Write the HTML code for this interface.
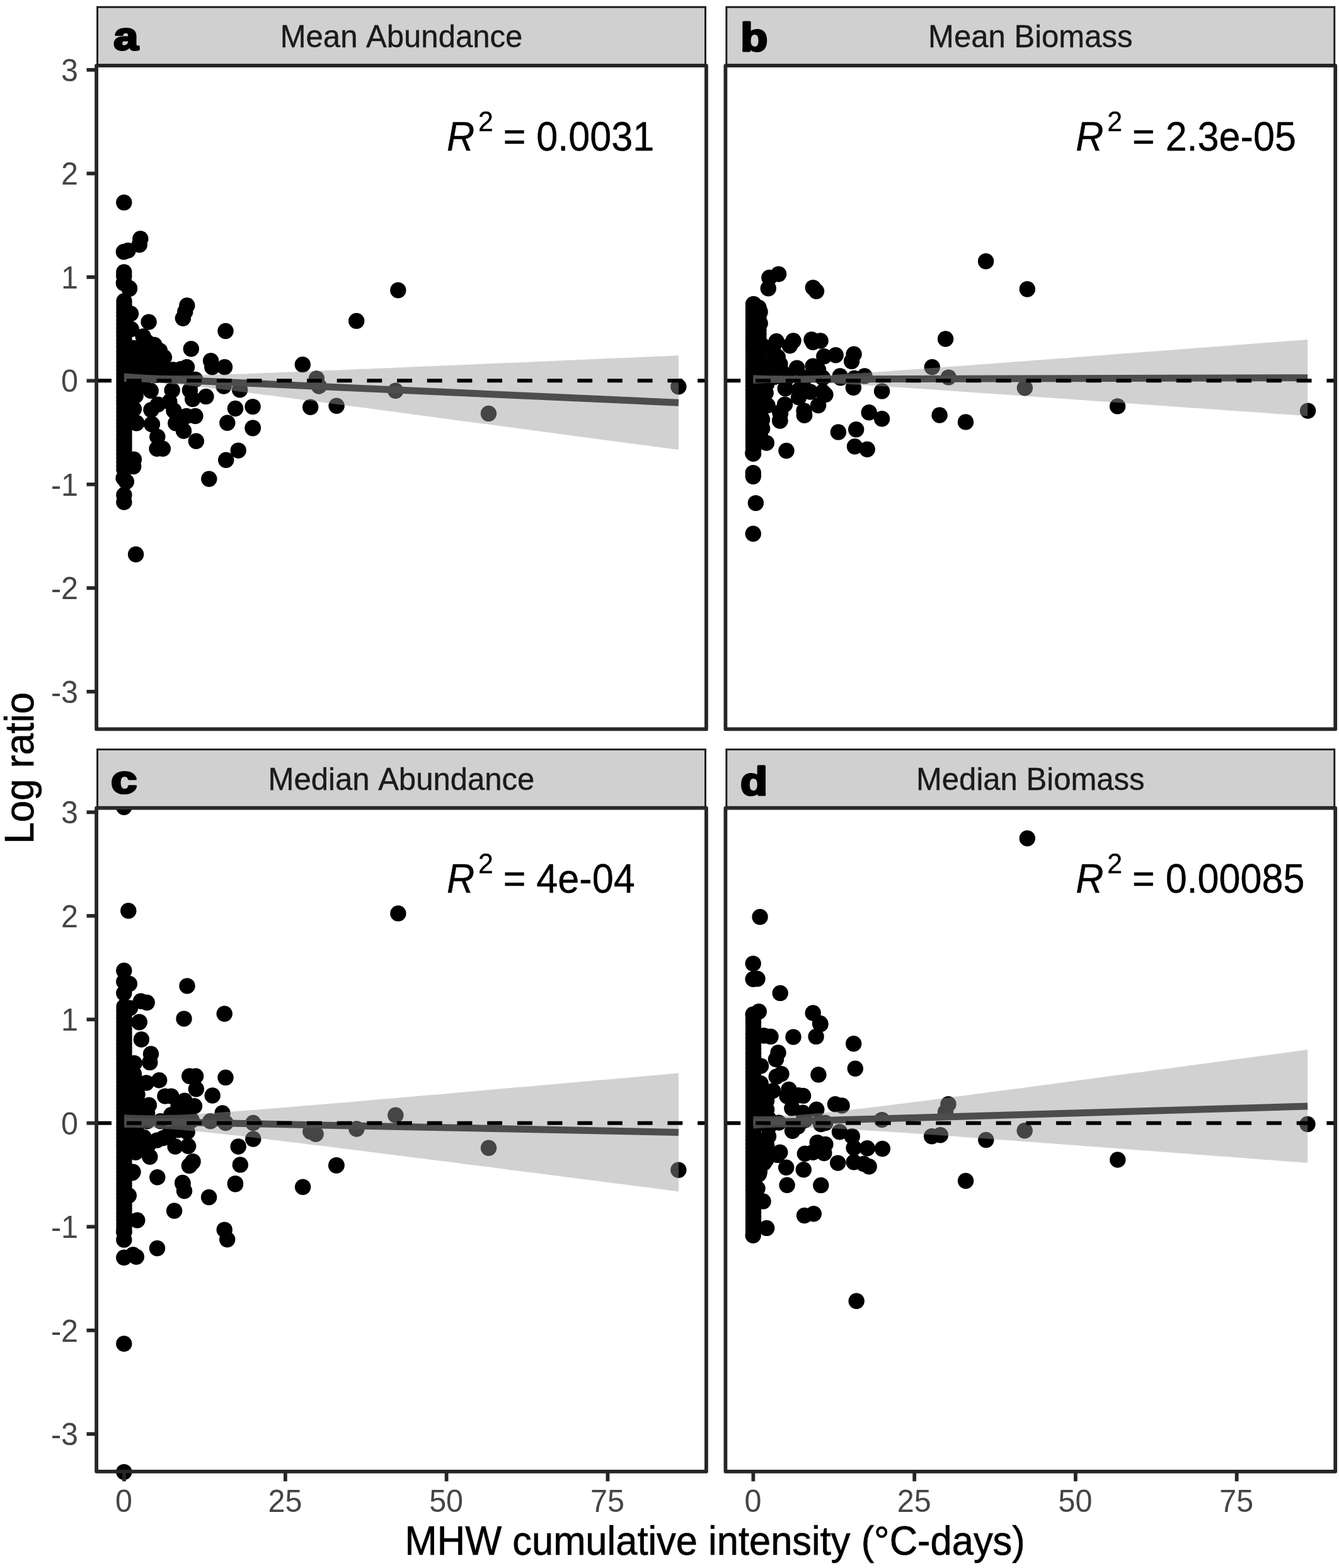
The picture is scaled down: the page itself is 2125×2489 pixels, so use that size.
<!DOCTYPE html>
<html lang="en"><head><meta charset="utf-8"><title>Log ratio vs MHW cumulative intensity</title>
<style>
html,body{margin:0;padding:0;background:#fff;}
svg{display:block;}
text{font-family:"Liberation Sans",sans-serif;font-kerning:none;}
.tk{font-size:50px;fill:#454545;}
.st{font-size:50.6px;fill:#1a1a1a;text-anchor:middle;stroke:#1a1a1a;stroke-width:0.4px;}
.ti{font-size:64px;fill:#000;text-anchor:middle;stroke:#000;stroke-width:0.7px;}
.r2{font-size:64px;fill:#000;stroke:#000;stroke-width:0.4px;}
.lab{font-family:"Liberation Sans",sans-serif;font-weight:bold;font-size:62.5px;fill:#000;stroke:#000;stroke-width:3.2px;stroke-linejoin:round;}
.pt circle{r:12.7px;}
</style></head><body>
<svg xmlns="http://www.w3.org/2000/svg" width="2125" height="2489" viewBox="0 0 2125 2489">
<rect width="2125" height="2489" fill="#fff"/>
<g id="panel-a">
<g class="pt" fill="#000">
<circle cx="196.8" cy="321.4"/><circle cx="222.8" cy="379"/><circle cx="221.2" cy="388.5"/><circle cx="203.1" cy="397.6"/><circle cx="196.4" cy="399.8"/><circle cx="196.8" cy="432"/><circle cx="196.8" cy="438.3"/><circle cx="196.4" cy="449.6"/><circle cx="205.4" cy="457.5"/><circle cx="296.8" cy="484.9"/><circle cx="293.7" cy="495.1"/><circle cx="290.4" cy="505.3"/><circle cx="236.1" cy="511.1"/><circle cx="358" cy="525.5"/><circle cx="303.3" cy="553.8"/><circle cx="334.6" cy="572.8"/><circle cx="336.8" cy="582.7"/><circle cx="356.5" cy="582.7"/><circle cx="296.5" cy="582.7"/><circle cx="355.1" cy="613.1"/><circle cx="380.6" cy="618.8"/><circle cx="326.9" cy="629.4"/><circle cx="373.5" cy="648.5"/><circle cx="401.1" cy="645.6"/><circle cx="309.9" cy="602.5"/><circle cx="301.4" cy="619.5"/><circle cx="305.7" cy="633.6"/><circle cx="273.2" cy="619.5"/><circle cx="239.2" cy="620.2"/><circle cx="268.9" cy="637.9"/><circle cx="250.6" cy="642.1"/><circle cx="240" cy="650.6"/><circle cx="276" cy="652"/><circle cx="295.8" cy="660.5"/><circle cx="309.9" cy="660.5"/><circle cx="278.8" cy="671.8"/><circle cx="240.7" cy="673.2"/><circle cx="216.6" cy="671.8"/><circle cx="212.4" cy="649.2"/><circle cx="215.2" cy="628"/><circle cx="205.3" cy="458.4"/><circle cx="196.9" cy="448.5"/><circle cx="207.5" cy="497.9"/><circle cx="208.2" cy="522.5"/><circle cx="227.1" cy="534"/><circle cx="233.6" cy="543.2"/><circle cx="244.9" cy="547.4"/><circle cx="253.4" cy="556.6"/><circle cx="260.4" cy="567.2"/><circle cx="274.6" cy="587"/><circle cx="287.3" cy="585.6"/><circle cx="212.4" cy="552.4"/><circle cx="212.4" cy="567.2"/><circle cx="212.4" cy="581.3"/><circle cx="226.5" cy="551.6"/><circle cx="226.5" cy="567.2"/><circle cx="226.5" cy="581.3"/><circle cx="240.7" cy="560.1"/><circle cx="240.7" cy="574.3"/><circle cx="240.7" cy="587"/><circle cx="254.8" cy="574.3"/><circle cx="254.8" cy="587"/><circle cx="266.1" cy="587"/><circle cx="212.4" cy="595.5"/><circle cx="229.4" cy="595.5"/><circle cx="246.3" cy="595.5"/><circle cx="263.3" cy="595.5"/><circle cx="280.2" cy="595.5"/><circle cx="294.4" cy="595.5"/><circle cx="212.4" cy="609.6"/><circle cx="226.5" cy="609.6"/><circle cx="360.8" cy="671.3"/><circle cx="401.3" cy="679.1"/><circle cx="311.3" cy="700.3"/><circle cx="291.5" cy="684"/><circle cx="378.2" cy="715.1"/><circle cx="358.7" cy="730.2"/><circle cx="331.8" cy="760.3"/><circle cx="215.6" cy="880"/><circle cx="241.4" cy="673.4"/><circle cx="249.8" cy="693.2"/><circle cx="249.1" cy="712.3"/><circle cx="258.3" cy="712.3"/><circle cx="212.4" cy="729.2"/><circle cx="211.7" cy="740.6"/><circle cx="196.1" cy="758.9"/><circle cx="200.4" cy="764.6"/><circle cx="196.9" cy="785.8"/><circle cx="196.9" cy="797.1"/><circle cx="216.6" cy="671.3"/><circle cx="197" cy="478"/><circle cx="197" cy="484.1"/><circle cx="197" cy="490.1"/><circle cx="197" cy="496.2"/><circle cx="197" cy="502.3"/><circle cx="197" cy="508.3"/><circle cx="197" cy="514.4"/><circle cx="197" cy="520.5"/><circle cx="197" cy="526.5"/><circle cx="197" cy="532.6"/><circle cx="197" cy="538.7"/><circle cx="197" cy="544.8"/><circle cx="197" cy="550.8"/><circle cx="197" cy="556.9"/><circle cx="197" cy="563"/><circle cx="197" cy="569"/><circle cx="197" cy="575.1"/><circle cx="197" cy="581.2"/><circle cx="197" cy="587.2"/><circle cx="197" cy="593.3"/><circle cx="197" cy="599.4"/><circle cx="197" cy="605.4"/><circle cx="197" cy="611.5"/><circle cx="197" cy="617.6"/><circle cx="197" cy="623.6"/><circle cx="197" cy="629.7"/><circle cx="197" cy="635.8"/><circle cx="197" cy="641.8"/><circle cx="197" cy="647.9"/><circle cx="197" cy="654"/><circle cx="197" cy="660"/><circle cx="197" cy="666.1"/><circle cx="197" cy="672.2"/><circle cx="197" cy="678.2"/><circle cx="197" cy="684.3"/><circle cx="197" cy="690.4"/><circle cx="197" cy="696.5"/><circle cx="197" cy="702.5"/><circle cx="197" cy="708.6"/><circle cx="197" cy="714.7"/><circle cx="197" cy="720.7"/><circle cx="197" cy="726.8"/><circle cx="197" cy="732.9"/><circle cx="197" cy="738.9"/><circle cx="197" cy="745"/><circle cx="631.8" cy="460.8"/><circle cx="565.7" cy="509.4"/><circle cx="480.3" cy="578.8"/><circle cx="502.4" cy="601"/><circle cx="506.3" cy="613"/><circle cx="627.7" cy="620.2"/><circle cx="492.7" cy="646.2"/><circle cx="534.1" cy="644.2"/><circle cx="775.4" cy="656.4"/><circle cx="401.1" cy="679.7"/><circle cx="1076.8" cy="613.7"/>
</g>
<polygon points="197.1,592.3 208.2,593.2 219.4,594.1 230.5,594.8 241.6,595.3 252.8,595.7 263.9,595.9 275.1,596 286.2,596 297.3,595.9 308.5,595.7 319.6,595.4 330.7,595.2 341.9,594.8 353,594.5 364.1,594.1 375.3,593.8 386.4,593.4 397.6,593 408.7,592.6 419.8,592.1 431,591.7 442.1,591.3 453.2,590.8 464.4,590.4 475.5,590 486.6,589.5 497.8,589.1 508.9,588.6 520.1,588.1 531.2,587.7 542.3,587.2 553.5,586.8 564.6,586.3 575.7,585.8 586.9,585.4 598,584.9 609.1,584.4 620.3,583.9 631.4,583.5 642.6,583 653.7,582.5 664.8,582.1 676,581.6 687.1,581.1 698.2,580.6 709.4,580.2 720.5,579.7 731.6,579.2 742.8,578.7 753.9,578.2 765.1,577.8 776.2,577.3 787.3,576.8 798.5,576.3 809.6,575.9 820.7,575.4 831.9,574.9 843,574.4 854.2,573.9 865.3,573.5 876.4,573 887.6,572.5 898.7,572 909.8,571.5 921,571 932.1,570.6 943.2,570.1 954.4,569.6 965.5,569.1 976.7,568.6 987.8,568.2 998.9,567.7 1010.1,567.2 1021.2,566.7 1032.3,566.2 1043.5,565.7 1054.6,565.3 1065.7,564.8 1076.9,564.3 1076.9,714.1 1065.7,712.6 1054.6,711.1 1043.5,709.6 1032.3,708.1 1021.2,706.6 1010.1,705.1 998.9,703.7 987.8,702.2 976.7,700.7 965.5,699.2 954.4,697.7 943.2,696.2 932.1,694.7 921,693.2 909.8,691.7 898.7,690.2 887.6,688.7 876.4,687.2 865.3,685.8 854.2,684.3 843,682.8 831.9,681.3 820.7,679.8 809.6,678.3 798.5,676.8 787.3,675.3 776.2,673.8 765.1,672.3 753.9,670.9 742.8,669.4 731.6,667.9 720.5,666.4 709.4,664.9 698.2,663.4 687.1,661.9 676,660.5 664.8,659 653.7,657.5 642.6,656 631.4,654.5 620.3,653 609.1,651.6 598,650.1 586.9,648.6 575.7,647.1 564.6,645.6 553.5,644.2 542.3,642.7 531.2,641.2 520.1,639.8 508.9,638.3 497.8,636.8 486.6,635.4 475.5,633.9 464.4,632.4 453.2,631 442.1,629.5 431,628.1 419.8,626.7 408.7,625.2 397.6,623.8 386.4,622.4 375.3,621 364.1,619.6 353,618.2 341.9,616.9 330.7,615.6 319.6,614.3 308.5,613 297.3,611.8 286.2,610.7 275.1,609.7 263.9,608.8 252.8,608 241.6,607.3 230.5,606.9 219.4,606.5 208.2,606.4 197.1,606.3" fill="#999" fill-opacity="0.45"/>
<line x1="197.1" y1="599.3" x2="1076.9" y2="639.2" stroke="#4d4d4d" stroke-width="11"/>
<line x1="153.1" y1="604.3" x2="1120.9" y2="604.3" stroke="#000" stroke-width="6" stroke-dasharray="23.85 23.85"/>
<rect x="153.1" y="104.2" width="967.8" height="1053.2" fill="none" stroke="#262626" stroke-width="5.8" stroke-linejoin="round"/>
<clipPath id="sca"><rect x="153.1" y="9.8" width="967.8" height="94.4"/></clipPath>
<rect x="153.1" y="9.8" width="967.8" height="94.4" fill="#d0d0d0" stroke="#1c1c1c" stroke-width="5.8" clip-path="url(#sca)"/>
<text class="st" transform="translate(637,75.4) scale(0.97,1)">Mean Abundance</text>
<text class="lab" transform="translate(180.3,78.8) scale(1.13,1)">a</text>
<text class="r2" transform="translate(708.9,238.6) scale(0.955,1)"><tspan x="0" font-style="italic">R</tspan><tspan x="52.4" dy="-30.6" font-size="44.8px">2</tspan><tspan x="94" dy="30.6">= 0.0031</tspan></text>
<line x1="137.5" y1="1097.9" x2="153.1" y2="1097.9" stroke="#262626" stroke-width="5.8"/>
<text class="tk" text-anchor="end" transform="translate(124,1115.9) scale(0.97,1)">-3</text>
<line x1="137.5" y1="933.4" x2="153.1" y2="933.4" stroke="#262626" stroke-width="5.8"/>
<text class="tk" text-anchor="end" transform="translate(124,951.4) scale(0.97,1)">-2</text>
<line x1="137.5" y1="768.9" x2="153.1" y2="768.9" stroke="#262626" stroke-width="5.8"/>
<text class="tk" text-anchor="end" transform="translate(124,786.9) scale(0.97,1)">-1</text>
<line x1="137.5" y1="604.4" x2="153.1" y2="604.4" stroke="#262626" stroke-width="5.8"/>
<text class="tk" text-anchor="end" transform="translate(124,622.4) scale(0.97,1)">0</text>
<line x1="137.5" y1="439.9" x2="153.1" y2="439.9" stroke="#262626" stroke-width="5.8"/>
<text class="tk" text-anchor="end" transform="translate(124,457.9) scale(0.97,1)">1</text>
<line x1="137.5" y1="275.4" x2="153.1" y2="275.4" stroke="#262626" stroke-width="5.8"/>
<text class="tk" text-anchor="end" transform="translate(124,293.4) scale(0.97,1)">2</text>
<line x1="137.5" y1="110.9" x2="153.1" y2="110.9" stroke="#262626" stroke-width="5.8"/>
<text class="tk" text-anchor="end" transform="translate(124,128.9) scale(0.97,1)">3</text>
</g>
<g id="panel-b">
<g class="pt" fill="#000">
<circle cx="1235.6" cy="435.1"/><circle cx="1220.9" cy="440.8"/><circle cx="1219.3" cy="457.8"/><circle cx="1290.3" cy="456.6"/><circle cx="1295.5" cy="462.3"/><circle cx="1564.6" cy="414.8"/><circle cx="1500.6" cy="538"/><circle cx="1479.3" cy="582.8"/><circle cx="1505.3" cy="599.1"/><circle cx="1196" cy="482.6"/><circle cx="1203.9" cy="488.3"/><circle cx="1206.2" cy="495.1"/><circle cx="1206.2" cy="513.2"/><circle cx="1491.1" cy="659"/><circle cx="1532.5" cy="669.9"/><circle cx="1356.5" cy="708.7"/><circle cx="1376.2" cy="713.3"/><circle cx="1248" cy="715.5"/><circle cx="1216.4" cy="703.1"/><circle cx="1194.9" cy="718.9"/><circle cx="1232.2" cy="541.8"/><circle cx="1259" cy="541"/><circle cx="1253.4" cy="548.8"/><circle cx="1288" cy="538.9"/><circle cx="1302.1" cy="541"/><circle cx="1290.1" cy="543.2"/><circle cx="1307.8" cy="565.8"/><circle cx="1326.2" cy="563.7"/><circle cx="1355.1" cy="562.2"/><circle cx="1351.6" cy="573.6"/><circle cx="1290.1" cy="581.3"/><circle cx="1264.7" cy="584.1"/><circle cx="1298.6" cy="587"/><circle cx="1333.2" cy="596.9"/><circle cx="1333.9" cy="599.7"/><circle cx="1355.8" cy="600.4"/><circle cx="1372.1" cy="596.9"/><circle cx="1354.4" cy="615.2"/><circle cx="1399.6" cy="620.9"/><circle cx="1379.2" cy="654.8"/><circle cx="1399.6" cy="664.7"/><circle cx="1330.4" cy="685.9"/><circle cx="1358.7" cy="681.7"/><circle cx="1246.3" cy="616.7"/><circle cx="1268.9" cy="618.1"/><circle cx="1305.7" cy="622.3"/><circle cx="1309.9" cy="626.5"/><circle cx="1298.6" cy="643.5"/><circle cx="1267.5" cy="630.8"/><circle cx="1245.6" cy="642.1"/><circle cx="1276" cy="652"/><circle cx="1276.7" cy="659.1"/><circle cx="1238.5" cy="656.2"/><circle cx="1237.8" cy="667.5"/><circle cx="1216.6" cy="609.6"/><circle cx="1215.2" cy="623.7"/><circle cx="1218" cy="643.5"/><circle cx="1209.6" cy="666.1"/><circle cx="1209.6" cy="680.2"/><circle cx="1212.4" cy="550.2"/><circle cx="1226.5" cy="554.5"/><circle cx="1216.6" cy="575.7"/><circle cx="1229.4" cy="571.4"/><circle cx="1233.6" cy="582.7"/><circle cx="1216.6" cy="589.8"/><circle cx="1240.7" cy="589.8"/><circle cx="1229.4" cy="598.3"/><circle cx="1216.6" cy="599.7"/><circle cx="1249.1" cy="599.7"/><circle cx="1277.4" cy="599.7"/><circle cx="1305.7" cy="599.7"/><circle cx="1195.3" cy="750.6"/><circle cx="1195.3" cy="756.3"/><circle cx="1199.4" cy="798.6"/><circle cx="1195.3" cy="847.2"/><circle cx="1195.3" cy="720.1"/><circle cx="1208.4" cy="663.6"/><circle cx="1208.4" cy="677.1"/><circle cx="1206.2" cy="690.7"/><circle cx="1237.8" cy="668.1"/><circle cx="1237.8" cy="654.5"/><circle cx="1276.3" cy="659"/><circle cx="1195.6" cy="483"/><circle cx="1195.6" cy="488.9"/><circle cx="1195.6" cy="494.9"/><circle cx="1195.6" cy="500.8"/><circle cx="1195.6" cy="506.7"/><circle cx="1195.6" cy="512.6"/><circle cx="1195.6" cy="518.5"/><circle cx="1195.6" cy="524.5"/><circle cx="1195.6" cy="530.4"/><circle cx="1195.6" cy="536.3"/><circle cx="1195.6" cy="542.2"/><circle cx="1195.6" cy="548.2"/><circle cx="1195.6" cy="554.1"/><circle cx="1195.6" cy="560"/><circle cx="1195.6" cy="566"/><circle cx="1195.6" cy="571.9"/><circle cx="1195.6" cy="577.8"/><circle cx="1195.6" cy="583.7"/><circle cx="1195.6" cy="589.6"/><circle cx="1195.6" cy="595.6"/><circle cx="1195.6" cy="601.5"/><circle cx="1195.6" cy="607.4"/><circle cx="1195.6" cy="613.4"/><circle cx="1195.6" cy="619.3"/><circle cx="1195.6" cy="625.2"/><circle cx="1195.6" cy="631.1"/><circle cx="1195.6" cy="637"/><circle cx="1195.6" cy="643"/><circle cx="1195.6" cy="648.9"/><circle cx="1195.6" cy="654.8"/><circle cx="1195.6" cy="660.8"/><circle cx="1195.6" cy="666.7"/><circle cx="1195.6" cy="672.6"/><circle cx="1195.6" cy="678.5"/><circle cx="1195.6" cy="684.5"/><circle cx="1195.6" cy="690.4"/><circle cx="1195.6" cy="696.3"/><circle cx="1195.6" cy="702.2"/><circle cx="1195.6" cy="708.1"/><circle cx="1195.6" cy="714.1"/><circle cx="1195.6" cy="720"/><circle cx="1204" cy="489"/><circle cx="1204" cy="495.9"/><circle cx="1204" cy="502.9"/><circle cx="1204" cy="509.8"/><circle cx="1204" cy="516.8"/><circle cx="1204" cy="523.7"/><circle cx="1204" cy="530.6"/><circle cx="1204" cy="537.6"/><circle cx="1204" cy="544.5"/><circle cx="1204" cy="551.4"/><circle cx="1204" cy="558.4"/><circle cx="1204" cy="565.3"/><circle cx="1204" cy="572.2"/><circle cx="1204" cy="579.2"/><circle cx="1204" cy="586.1"/><circle cx="1204" cy="593.1"/><circle cx="1204" cy="600"/><circle cx="1203" cy="600"/><circle cx="1203" cy="607.1"/><circle cx="1203" cy="614.3"/><circle cx="1203" cy="621.4"/><circle cx="1203" cy="628.6"/><circle cx="1203" cy="635.7"/><circle cx="1203" cy="642.9"/><circle cx="1203" cy="650"/><circle cx="1203" cy="657.1"/><circle cx="1203" cy="664.3"/><circle cx="1203" cy="671.4"/><circle cx="1203" cy="678.6"/><circle cx="1203" cy="685.7"/><circle cx="1203" cy="692.9"/><circle cx="1203" cy="700"/><circle cx="1630.3" cy="459"/><circle cx="1626.4" cy="615.7"/><circle cx="1773.6" cy="644.9"/><circle cx="2075.6" cy="652.1"/><circle cx="1234.3" cy="566.8"/><circle cx="1237.9" cy="577.7"/><circle cx="1285.8" cy="622"/>
</g>
<polygon points="1195.4,595.3 1206.5,595.8 1217.7,596.2 1228.8,596.6 1239.9,596.8 1251.1,596.9 1262.2,596.9 1273.4,596.8 1284.5,596.5 1295.6,596.1 1306.8,595.6 1317.9,595.1 1329,594.5 1340.2,593.8 1351.3,593.1 1362.4,592.4 1373.6,591.7 1384.7,591 1395.9,590.2 1407,589.4 1418.1,588.6 1429.3,587.8 1440.4,587 1451.5,586.2 1462.7,585.4 1473.8,584.6 1484.9,583.8 1496.1,583 1507.2,582.1 1518.4,581.3 1529.5,580.5 1540.6,579.7 1551.8,578.8 1562.9,578 1574,577.2 1585.2,576.3 1596.3,575.5 1607.4,574.6 1618.6,573.8 1629.7,573 1640.9,572.1 1652,571.3 1663.1,570.4 1674.3,569.6 1685.4,568.7 1696.5,567.9 1707.7,567.1 1718.8,566.2 1729.9,565.4 1741.1,564.5 1752.2,563.7 1763.4,562.8 1774.5,562 1785.6,561.1 1796.8,560.3 1807.9,559.4 1819,558.6 1830.2,557.7 1841.3,556.9 1852.5,556 1863.6,555.2 1874.7,554.3 1885.9,553.5 1897,552.6 1908.1,551.8 1919.3,550.9 1930.4,550.1 1941.5,549.2 1952.7,548.4 1963.8,547.5 1975,546.7 1986.1,545.8 1997.2,545 2008.4,544.1 2019.5,543.3 2030.6,542.4 2041.8,541.6 2052.9,540.7 2064,539.9 2075.2,539 2075.2,660.4 2064,659.6 2052.9,658.8 2041.8,658 2030.6,657.2 2019.5,656.4 2008.4,655.6 1997.2,654.8 1986.1,654.1 1975,653.3 1963.8,652.5 1952.7,651.7 1941.5,650.9 1930.4,650.1 1919.3,649.3 1908.1,648.5 1897,647.7 1885.9,646.9 1874.7,646.2 1863.6,645.4 1852.5,644.6 1841.3,643.8 1830.2,643 1819,642.2 1807.9,641.4 1796.8,640.6 1785.6,639.9 1774.5,639.1 1763.4,638.3 1752.2,637.5 1741.1,636.7 1729.9,635.9 1718.8,635.1 1707.7,634.4 1696.5,633.6 1685.4,632.8 1674.3,632 1663.1,631.2 1652,630.4 1640.9,629.7 1629.7,628.9 1618.6,628.1 1607.4,627.3 1596.3,626.5 1585.2,625.8 1574,625 1562.9,624.2 1551.8,623.4 1540.6,622.7 1529.5,621.9 1518.4,621.1 1507.2,620.4 1496.1,619.6 1484.9,618.8 1473.8,618.1 1462.7,617.3 1451.5,616.6 1440.4,615.8 1429.3,615.1 1418.1,614.4 1407,613.6 1395.9,612.9 1384.7,612.2 1373.6,611.5 1362.4,610.8 1351.3,610.2 1340.2,609.6 1329,609 1317.9,608.4 1306.8,608 1295.6,607.5 1284.5,607.2 1273.4,607 1262.2,606.9 1251.1,607 1239.9,607.2 1228.8,607.5 1217.7,607.9 1206.5,608.4 1195.4,608.9" fill="#999" fill-opacity="0.45"/>
<line x1="1195.4" y1="602.1" x2="2075.2" y2="599.7" stroke="#4d4d4d" stroke-width="11"/>
<line x1="1151.4" y1="604.3" x2="2119.2" y2="604.3" stroke="#000" stroke-width="6" stroke-dasharray="23.85 23.85"/>
<rect x="1151.4" y="104.2" width="967.8" height="1053.2" fill="none" stroke="#262626" stroke-width="5.8" stroke-linejoin="round"/>
<clipPath id="scb"><rect x="1151.4" y="9.8" width="967.8" height="94.4"/></clipPath>
<rect x="1151.4" y="9.8" width="967.8" height="94.4" fill="#d0d0d0" stroke="#1c1c1c" stroke-width="5.8" clip-path="url(#scb)"/>
<text class="st" transform="translate(1635.3,75.4) scale(0.97,1)">Mean Biomass</text>
<text class="lab" transform="translate(1175.3,80.5) scale(1.13,1)">b</text>
<text class="r2" transform="translate(1707.2,238.6) scale(0.955,1)"><tspan x="0" font-style="italic">R</tspan><tspan x="52.4" dy="-30.6" font-size="44.8px">2</tspan><tspan x="94" dy="30.6">= 2.3e-05</tspan></text>
</g>
<g id="panel-c">
<g class="pt" fill="#000">
<circle cx="196.8" cy="1281.3"/><circle cx="203.8" cy="1445.7"/><circle cx="196.8" cy="1540.7"/><circle cx="196.8" cy="1558.3"/><circle cx="205.4" cy="1561.7"/><circle cx="196.8" cy="1576.4"/><circle cx="223.5" cy="1589.3"/><circle cx="233.2" cy="1591.5"/><circle cx="297" cy="1565.1"/><circle cx="292" cy="1617.1"/><circle cx="356.2" cy="1609.2"/><circle cx="221.2" cy="1622.3"/><circle cx="206.5" cy="1600.1"/><circle cx="220.9" cy="1622.8"/><circle cx="224.4" cy="1650"/><circle cx="239.5" cy="1673"/><circle cx="237.8" cy="1686.4"/><circle cx="213.1" cy="1687.8"/><circle cx="252.7" cy="1714.7"/><circle cx="232.2" cy="1718.9"/><circle cx="300.7" cy="1708.3"/><circle cx="310.6" cy="1708.3"/><circle cx="311.3" cy="1728.8"/><circle cx="358" cy="1710.4"/><circle cx="337.2" cy="1739"/><circle cx="261.9" cy="1740.1"/><circle cx="271.8" cy="1740.1"/><circle cx="293" cy="1747.2"/><circle cx="308.5" cy="1755.7"/><circle cx="283.1" cy="1755.7"/><circle cx="236.4" cy="1754.3"/><circle cx="271.8" cy="1769.8"/><circle cx="297.2" cy="1767"/><circle cx="353" cy="1767"/><circle cx="333.9" cy="1779.7"/><circle cx="358" cy="1782.5"/><circle cx="401.8" cy="1782.5"/><circle cx="401.8" cy="1808"/><circle cx="378.2" cy="1820"/><circle cx="381.3" cy="1848.9"/><circle cx="373.5" cy="1879.8"/><circle cx="297.2" cy="1796.7"/><circle cx="268.9" cy="1799.5"/><circle cx="259" cy="1806.5"/><circle cx="278.1" cy="1820"/><circle cx="298.6" cy="1819.3"/><circle cx="237.8" cy="1836.2"/><circle cx="305.7" cy="1844.7"/><circle cx="301.4" cy="1849.6"/><circle cx="249.8" cy="1868.7"/><circle cx="290.1" cy="1879"/><circle cx="211" cy="1860.2"/><circle cx="212.4" cy="1704.8"/><circle cx="219.5" cy="1718.9"/><circle cx="216.6" cy="1733.1"/><circle cx="218" cy="1737.3"/><circle cx="216.6" cy="1747.2"/><circle cx="216.6" cy="1761.3"/><circle cx="233.6" cy="1767"/><circle cx="216.6" cy="1775.5"/><circle cx="233.6" cy="1779.7"/><circle cx="254.8" cy="1779.7"/><circle cx="283.1" cy="1779.7"/><circle cx="304.3" cy="1778.3"/><circle cx="216.6" cy="1796.7"/><circle cx="216.6" cy="1810.8"/><circle cx="227.9" cy="1805.1"/><circle cx="235" cy="1817.9"/><circle cx="215.2" cy="1829.2"/><circle cx="249.1" cy="1810.1"/><circle cx="223.7" cy="1820.7"/><circle cx="283.1" cy="1793.8"/><circle cx="306" cy="1843.6"/><circle cx="300.4" cy="1850.4"/><circle cx="533.7" cy="1849.9"/><circle cx="289.7" cy="1877.5"/><circle cx="292.5" cy="1890.6"/><circle cx="373.4" cy="1878.6"/><circle cx="480.6" cy="1884.3"/><circle cx="331.6" cy="1900.5"/><circle cx="276.6" cy="1922"/><circle cx="217.8" cy="1937"/><circle cx="356.2" cy="1952.1"/><circle cx="360.7" cy="1967.5"/><circle cx="249.5" cy="1981.5"/><circle cx="196.8" cy="1996.2"/><circle cx="216.3" cy="1995.1"/><circle cx="211.1" cy="1991.7"/><circle cx="196.8" cy="2133"/><circle cx="209.9" cy="1861.7"/><circle cx="204.3" cy="1897.8"/><circle cx="196.8" cy="1955.5"/><circle cx="196.8" cy="1967.9"/><circle cx="197" cy="1598"/><circle cx="197" cy="1604"/><circle cx="197" cy="1609.9"/><circle cx="197" cy="1615.8"/><circle cx="197" cy="1621.8"/><circle cx="197" cy="1627.8"/><circle cx="197" cy="1633.7"/><circle cx="197" cy="1639.7"/><circle cx="197" cy="1645.6"/><circle cx="197" cy="1651.5"/><circle cx="197" cy="1657.5"/><circle cx="197" cy="1663.5"/><circle cx="197" cy="1669.4"/><circle cx="197" cy="1675.3"/><circle cx="197" cy="1681.3"/><circle cx="197" cy="1687.2"/><circle cx="197" cy="1693.2"/><circle cx="197" cy="1699.2"/><circle cx="197" cy="1705.1"/><circle cx="197" cy="1711"/><circle cx="197" cy="1717"/><circle cx="197" cy="1723"/><circle cx="197" cy="1728.9"/><circle cx="197" cy="1734.8"/><circle cx="197" cy="1740.8"/><circle cx="197" cy="1746.8"/><circle cx="197" cy="1752.7"/><circle cx="197" cy="1758.7"/><circle cx="197" cy="1764.6"/><circle cx="197" cy="1770.5"/><circle cx="197" cy="1776.5"/><circle cx="197" cy="1782.5"/><circle cx="197" cy="1788.4"/><circle cx="197" cy="1794.3"/><circle cx="197" cy="1800.3"/><circle cx="197" cy="1806.2"/><circle cx="197" cy="1812.2"/><circle cx="197" cy="1818.2"/><circle cx="197" cy="1824.1"/><circle cx="197" cy="1830"/><circle cx="197" cy="1836"/><circle cx="197" cy="1842"/><circle cx="197" cy="1847.9"/><circle cx="197" cy="1853.8"/><circle cx="197" cy="1859.8"/><circle cx="197" cy="1865.8"/><circle cx="197" cy="1871.7"/><circle cx="197" cy="1877.7"/><circle cx="197" cy="1883.6"/><circle cx="197" cy="1889.5"/><circle cx="197" cy="1895.5"/><circle cx="197" cy="1901.5"/><circle cx="197" cy="1907.4"/><circle cx="197" cy="1913.3"/><circle cx="197" cy="1919.3"/><circle cx="197" cy="1925.2"/><circle cx="197" cy="1931.2"/><circle cx="197" cy="1937.2"/><circle cx="197" cy="1943.1"/><circle cx="197" cy="1949"/><circle cx="197" cy="1955"/><circle cx="631.9" cy="1449.9"/><circle cx="627.8" cy="1770.2"/><circle cx="565.9" cy="1792"/><circle cx="492.8" cy="1796.2"/><circle cx="501.1" cy="1800.3"/><circle cx="534.1" cy="1849.8"/><circle cx="775.5" cy="1822.2"/><circle cx="1076.8" cy="1857.2"/><circle cx="196.8" cy="2336.6"/>
</g>
<polygon points="197.1,1769.3 208.2,1769.8 219.4,1770.1 230.5,1770.3 241.6,1770.4 252.8,1770.3 263.9,1770.1 275.1,1769.8 286.2,1769.4 297.3,1768.9 308.5,1768.3 319.6,1767.7 330.7,1767 341.9,1766.3 353,1765.5 364.1,1764.7 375.3,1763.9 386.4,1763.1 397.6,1762.3 408.7,1761.4 419.8,1760.5 431,1759.6 442.1,1758.7 453.2,1757.8 464.4,1756.9 475.5,1756 486.6,1755.1 497.8,1754.1 508.9,1753.2 520.1,1752.3 531.2,1751.3 542.3,1750.4 553.5,1749.4 564.6,1748.5 575.7,1747.5 586.9,1746.6 598,1745.6 609.1,1744.6 620.3,1743.7 631.4,1742.7 642.6,1741.8 653.7,1740.8 664.8,1739.8 676,1738.8 687.1,1737.9 698.2,1736.9 709.4,1735.9 720.5,1735 731.6,1734 742.8,1733 753.9,1732 765.1,1731 776.2,1730.1 787.3,1729.1 798.5,1728.1 809.6,1727.1 820.7,1726.1 831.9,1725.2 843,1724.2 854.2,1723.2 865.3,1722.2 876.4,1721.2 887.6,1720.2 898.7,1719.3 909.8,1718.3 921,1717.3 932.1,1716.3 943.2,1715.3 954.4,1714.3 965.5,1713.4 976.7,1712.4 987.8,1711.4 998.9,1710.4 1010.1,1709.4 1021.2,1708.4 1032.3,1707.4 1043.5,1706.4 1054.6,1705.5 1065.7,1704.5 1076.9,1703.5 1076.9,1891.3 1065.7,1889.9 1054.6,1888.5 1043.5,1887 1032.3,1885.6 1021.2,1884.1 1010.1,1882.7 998.9,1881.3 987.8,1879.8 976.7,1878.4 965.5,1877 954.4,1875.5 943.2,1874.1 932.1,1872.7 921,1871.2 909.8,1869.8 898.7,1868.4 887.6,1866.9 876.4,1865.5 865.3,1864.1 854.2,1862.6 843,1861.2 831.9,1859.8 820.7,1858.4 809.6,1856.9 798.5,1855.5 787.3,1854.1 776.2,1852.6 765.1,1851.2 753.9,1849.8 742.8,1848.4 731.6,1846.9 720.5,1845.5 709.4,1844.1 698.2,1842.7 687.1,1841.2 676,1839.8 664.8,1838.4 653.7,1837 642.6,1835.6 631.4,1834.2 620.3,1832.7 609.1,1831.3 598,1829.9 586.9,1828.5 575.7,1827.1 564.6,1825.7 553.5,1824.3 542.3,1822.9 531.2,1821.5 520.1,1820.1 508.9,1818.7 497.8,1817.4 486.6,1816 475.5,1814.6 464.4,1813.2 453.2,1811.9 442.1,1810.5 431,1809.2 419.8,1807.8 408.7,1806.5 397.6,1805.2 386.4,1803.9 375.3,1802.6 364.1,1801.4 353,1800.1 341.9,1798.9 330.7,1797.8 319.6,1796.6 308.5,1795.6 297.3,1794.5 286.2,1793.6 275.1,1792.7 263.9,1792 252.8,1791.3 241.6,1790.8 230.5,1790.4 219.4,1790.2 208.2,1790.1 197.1,1790.1" fill="#999" fill-opacity="0.45"/>
<line x1="197.1" y1="1779.7" x2="1076.9" y2="1797.4" stroke="#4d4d4d" stroke-width="11"/>
<line x1="153.1" y1="1782.7" x2="1120.9" y2="1782.7" stroke="#000" stroke-width="6" stroke-dasharray="23.85 23.85"/>
<rect x="153.1" y="1282.6" width="967.8" height="1053.2" fill="none" stroke="#262626" stroke-width="5.8" stroke-linejoin="round"/>
<clipPath id="scc"><rect x="153.1" y="1188.2" width="967.8" height="94.4"/></clipPath>
<rect x="153.1" y="1188.2" width="967.8" height="94.4" fill="#d0d0d0" stroke="#1c1c1c" stroke-width="5.8" clip-path="url(#scc)"/>
<text class="st" transform="translate(637,1253.8) scale(0.97,1)">Median Abundance</text>
<text class="lab" transform="translate(176.1,1258.8) scale(1.196,1)">c</text>
<text class="r2" transform="translate(708.9,1417) scale(0.955,1)"><tspan x="0" font-style="italic">R</tspan><tspan x="52.4" dy="-30.6" font-size="44.8px">2</tspan><tspan x="94" dy="30.6">= 4e-04</tspan></text>
<line x1="137.5" y1="2276.3" x2="153.1" y2="2276.3" stroke="#262626" stroke-width="5.8"/>
<text class="tk" text-anchor="end" transform="translate(124,2294.3) scale(0.97,1)">-3</text>
<line x1="137.5" y1="2111.8" x2="153.1" y2="2111.8" stroke="#262626" stroke-width="5.8"/>
<text class="tk" text-anchor="end" transform="translate(124,2129.8) scale(0.97,1)">-2</text>
<line x1="137.5" y1="1947.3" x2="153.1" y2="1947.3" stroke="#262626" stroke-width="5.8"/>
<text class="tk" text-anchor="end" transform="translate(124,1965.3) scale(0.97,1)">-1</text>
<line x1="137.5" y1="1782.8" x2="153.1" y2="1782.8" stroke="#262626" stroke-width="5.8"/>
<text class="tk" text-anchor="end" transform="translate(124,1800.8) scale(0.97,1)">0</text>
<line x1="137.5" y1="1618.3" x2="153.1" y2="1618.3" stroke="#262626" stroke-width="5.8"/>
<text class="tk" text-anchor="end" transform="translate(124,1636.3) scale(0.97,1)">1</text>
<line x1="137.5" y1="1453.8" x2="153.1" y2="1453.8" stroke="#262626" stroke-width="5.8"/>
<text class="tk" text-anchor="end" transform="translate(124,1471.8) scale(0.97,1)">2</text>
<line x1="137.5" y1="1289.3" x2="153.1" y2="1289.3" stroke="#262626" stroke-width="5.8"/>
<text class="tk" text-anchor="end" transform="translate(124,1307.3) scale(0.97,1)">3</text>
<line x1="197.1" y1="2335.8" x2="197.1" y2="2351.4" stroke="#262626" stroke-width="5.8"/>
<text class="tk" text-anchor="middle" transform="translate(196.6,2399.6) scale(0.97,1)">0</text>
<line x1="452.9" y1="2335.8" x2="452.9" y2="2351.4" stroke="#262626" stroke-width="5.8"/>
<text class="tk" text-anchor="middle" transform="translate(452.4,2399.6) scale(0.97,1)">25</text>
<line x1="708.6" y1="2335.8" x2="708.6" y2="2351.4" stroke="#262626" stroke-width="5.8"/>
<text class="tk" text-anchor="middle" transform="translate(708.1,2399.6) scale(0.97,1)">50</text>
<line x1="964.4" y1="2335.8" x2="964.4" y2="2351.4" stroke="#262626" stroke-width="5.8"/>
<text class="tk" text-anchor="middle" transform="translate(963.9,2399.6) scale(0.97,1)">75</text>
</g>
<g id="panel-d">
<g class="pt" fill="#000">
<circle cx="1206.1" cy="1455.4"/><circle cx="1195.2" cy="1529.6"/><circle cx="1195.2" cy="1554.2"/><circle cx="1202" cy="1553.8"/><circle cx="1238.2" cy="1576.4"/><circle cx="1204.3" cy="1605.8"/><circle cx="1195.2" cy="1610.3"/><circle cx="1290.2" cy="1608"/><circle cx="1301.5" cy="1624.5"/><circle cx="1505" cy="1752.7"/><circle cx="1500.5" cy="1765.2"/><circle cx="1478.7" cy="1803.8"/><circle cx="1492.3" cy="1801.8"/><circle cx="1259" cy="1646.1"/><circle cx="1223" cy="1645.4"/><circle cx="1212.4" cy="1644"/><circle cx="1295.1" cy="1645.4"/><circle cx="1302.1" cy="1625.7"/><circle cx="1354.7" cy="1656.7"/><circle cx="1235" cy="1670.9"/><circle cx="1231.5" cy="1681.5"/><circle cx="1207.5" cy="1692.1"/><circle cx="1357.3" cy="1696.3"/><circle cx="1298.9" cy="1705.9"/><circle cx="1240" cy="1704.8"/><circle cx="1232.2" cy="1709"/><circle cx="1252" cy="1729.5"/><circle cx="1274.6" cy="1739.4"/><circle cx="1267.5" cy="1738.7"/><circle cx="1249.1" cy="1740.1"/><circle cx="1256.9" cy="1759.2"/><circle cx="1273.9" cy="1766.3"/><circle cx="1295.8" cy="1761.3"/><circle cx="1325.5" cy="1752.8"/><circle cx="1336.1" cy="1755"/><circle cx="1399.6" cy="1777.6"/><circle cx="1302.8" cy="1784.6"/><circle cx="1309.9" cy="1782.5"/><circle cx="1257.6" cy="1795.2"/><circle cx="1266.1" cy="1788.2"/><circle cx="1332.5" cy="1796.7"/><circle cx="1352.3" cy="1803.7"/><circle cx="1297.2" cy="1813.6"/><circle cx="1309.9" cy="1816.4"/><circle cx="1355.1" cy="1822.1"/><circle cx="1376.3" cy="1822.8"/><circle cx="1400.4" cy="1823.5"/><circle cx="1277.4" cy="1831.3"/><circle cx="1290.1" cy="1829.2"/><circle cx="1307.8" cy="1830.6"/><circle cx="1237.8" cy="1829.2"/><circle cx="1233.6" cy="1833.4"/><circle cx="1329.7" cy="1846.1"/><circle cx="1355.1" cy="1844.7"/><circle cx="1370.7" cy="1847.5"/><circle cx="1379.2" cy="1851.8"/><circle cx="1247.7" cy="1853.2"/><circle cx="1275.3" cy="1856.7"/><circle cx="1249.1" cy="1881.2"/><circle cx="1302.8" cy="1881.4"/><circle cx="1212.4" cy="1733.1"/><circle cx="1226.5" cy="1731.6"/><circle cx="1216.6" cy="1747.2"/><circle cx="1216.6" cy="1761.3"/><circle cx="1219.5" cy="1775.5"/><circle cx="1236.1" cy="1782.1"/><circle cx="1277.4" cy="1778.3"/><circle cx="1219.5" cy="1789.6"/><circle cx="1219.5" cy="1803.7"/><circle cx="1216.6" cy="1817.9"/><circle cx="1212.4" cy="1832"/><circle cx="1212.4" cy="1846.1"/><circle cx="1205.3" cy="1860.2"/><circle cx="1532.6" cy="1874.5"/><circle cx="1359.2" cy="2065.2"/><circle cx="1211.1" cy="1906.9"/><circle cx="1276.6" cy="1929.5"/><circle cx="1291.3" cy="1926.8"/><circle cx="1216.7" cy="1949.4"/><circle cx="1195.2" cy="1961.1"/><circle cx="1204.3" cy="1863.9"/><circle cx="1202" cy="1886.5"/><circle cx="1215.6" cy="1841.3"/><circle cx="1195.6" cy="1611"/><circle cx="1195.6" cy="1617"/><circle cx="1195.6" cy="1623.1"/><circle cx="1195.6" cy="1629.1"/><circle cx="1195.6" cy="1635.1"/><circle cx="1195.6" cy="1641.2"/><circle cx="1195.6" cy="1647.2"/><circle cx="1195.6" cy="1653.2"/><circle cx="1195.6" cy="1659.3"/><circle cx="1195.6" cy="1665.3"/><circle cx="1195.6" cy="1671.4"/><circle cx="1195.6" cy="1677.4"/><circle cx="1195.6" cy="1683.4"/><circle cx="1195.6" cy="1689.5"/><circle cx="1195.6" cy="1695.5"/><circle cx="1195.6" cy="1701.5"/><circle cx="1195.6" cy="1707.6"/><circle cx="1195.6" cy="1713.6"/><circle cx="1195.6" cy="1719.6"/><circle cx="1195.6" cy="1725.7"/><circle cx="1195.6" cy="1731.7"/><circle cx="1195.6" cy="1737.7"/><circle cx="1195.6" cy="1743.8"/><circle cx="1195.6" cy="1749.8"/><circle cx="1195.6" cy="1755.8"/><circle cx="1195.6" cy="1761.9"/><circle cx="1195.6" cy="1767.9"/><circle cx="1195.6" cy="1773.9"/><circle cx="1195.6" cy="1780"/><circle cx="1195.6" cy="1786"/><circle cx="1195.6" cy="1792.1"/><circle cx="1195.6" cy="1798.1"/><circle cx="1195.6" cy="1804.1"/><circle cx="1195.6" cy="1810.2"/><circle cx="1195.6" cy="1816.2"/><circle cx="1195.6" cy="1822.2"/><circle cx="1195.6" cy="1828.3"/><circle cx="1195.6" cy="1834.3"/><circle cx="1195.6" cy="1840.3"/><circle cx="1195.6" cy="1846.4"/><circle cx="1195.6" cy="1852.4"/><circle cx="1195.6" cy="1858.4"/><circle cx="1195.6" cy="1864.5"/><circle cx="1195.6" cy="1870.5"/><circle cx="1195.6" cy="1876.5"/><circle cx="1195.6" cy="1882.6"/><circle cx="1195.6" cy="1888.6"/><circle cx="1195.6" cy="1894.6"/><circle cx="1195.6" cy="1900.7"/><circle cx="1195.6" cy="1906.7"/><circle cx="1195.6" cy="1912.8"/><circle cx="1195.6" cy="1918.8"/><circle cx="1195.6" cy="1924.8"/><circle cx="1195.6" cy="1930.9"/><circle cx="1195.6" cy="1936.9"/><circle cx="1195.6" cy="1942.9"/><circle cx="1195.6" cy="1949"/><circle cx="1195.6" cy="1955"/><circle cx="1630.3" cy="1330.7"/><circle cx="1564.8" cy="1809.4"/><circle cx="1626.2" cy="1794.7"/><circle cx="1773.8" cy="1841"/><circle cx="2075" cy="1784.4"/><circle cx="1207.1" cy="1719.7"/>
</g>
<polygon points="1195.4,1772 1206.5,1772.1 1217.7,1772 1228.8,1771.8 1239.9,1771.4 1251.1,1770.9 1262.2,1770.3 1273.4,1769.5 1284.5,1768.6 1295.6,1767.6 1306.8,1766.5 1317.9,1765.3 1329,1764.2 1340.2,1762.9 1351.3,1761.6 1362.4,1760.3 1373.6,1759 1384.7,1757.7 1395.9,1756.3 1407,1754.9 1418.1,1753.5 1429.3,1752.1 1440.4,1750.7 1451.5,1749.3 1462.7,1747.9 1473.8,1746.4 1484.9,1745 1496.1,1743.5 1507.2,1742.1 1518.4,1740.6 1529.5,1739.2 1540.6,1737.7 1551.8,1736.2 1562.9,1734.8 1574,1733.3 1585.2,1731.8 1596.3,1730.4 1607.4,1728.9 1618.6,1727.4 1629.7,1725.9 1640.9,1724.5 1652,1723 1663.1,1721.5 1674.3,1720 1685.4,1718.5 1696.5,1717 1707.7,1715.6 1718.8,1714.1 1729.9,1712.6 1741.1,1711.1 1752.2,1709.6 1763.4,1708.1 1774.5,1706.6 1785.6,1705.1 1796.8,1703.6 1807.9,1702.2 1819,1700.7 1830.2,1699.2 1841.3,1697.7 1852.5,1696.2 1863.6,1694.7 1874.7,1693.2 1885.9,1691.7 1897,1690.2 1908.1,1688.7 1919.3,1687.2 1930.4,1685.7 1941.5,1684.2 1952.7,1682.7 1963.8,1681.2 1975,1679.7 1986.1,1678.2 1997.2,1676.7 2008.4,1675.2 2019.5,1673.7 2030.6,1672.2 2041.8,1670.7 2052.9,1669.2 2064,1667.7 2075.2,1666.2 2075.2,1846 2064,1845.1 2052.9,1844.3 2041.8,1843.4 2030.6,1842.6 2019.5,1841.7 2008.4,1840.9 1997.2,1840 1986.1,1839.2 1975,1838.3 1963.8,1837.5 1952.7,1836.6 1941.5,1835.8 1930.4,1834.9 1919.3,1834.1 1908.1,1833.3 1897,1832.4 1885.9,1831.6 1874.7,1830.7 1863.6,1829.9 1852.5,1829 1841.3,1828.2 1830.2,1827.3 1819,1826.5 1807.9,1825.7 1796.8,1824.8 1785.6,1824 1774.5,1823.1 1763.4,1822.3 1752.2,1821.5 1741.1,1820.6 1729.9,1819.8 1718.8,1818.9 1707.7,1818.1 1696.5,1817.3 1685.4,1816.4 1674.3,1815.6 1663.1,1814.8 1652,1813.9 1640.9,1813.1 1629.7,1812.3 1618.6,1811.5 1607.4,1810.6 1596.3,1809.8 1585.2,1809 1574,1808.2 1562.9,1807.3 1551.8,1806.5 1540.6,1805.7 1529.5,1804.9 1518.4,1804.1 1507.2,1803.3 1496.1,1802.5 1484.9,1801.7 1473.8,1800.9 1462.7,1800.1 1451.5,1799.3 1440.4,1798.6 1429.3,1797.8 1418.1,1797.1 1407,1796.3 1395.9,1795.6 1384.7,1794.9 1373.6,1794.2 1362.4,1793.5 1351.3,1792.8 1340.2,1792.2 1329,1791.6 1317.9,1791.1 1306.8,1790.6 1295.6,1790.2 1284.5,1789.8 1273.4,1789.6 1262.2,1789.4 1251.1,1789.4 1239.9,1789.5 1228.8,1789.8 1217.7,1790.3 1206.5,1790.8 1195.4,1791.6" fill="#999" fill-opacity="0.45"/>
<line x1="1195.4" y1="1781.8" x2="2075.2" y2="1756.1" stroke="#4d4d4d" stroke-width="11"/>
<line x1="1151.4" y1="1782.7" x2="2119.2" y2="1782.7" stroke="#000" stroke-width="6" stroke-dasharray="23.85 23.85"/>
<rect x="1151.4" y="1282.6" width="967.8" height="1053.2" fill="none" stroke="#262626" stroke-width="5.8" stroke-linejoin="round"/>
<clipPath id="scd"><rect x="1151.4" y="1188.2" width="967.8" height="94.4"/></clipPath>
<rect x="1151.4" y="1188.2" width="967.8" height="94.4" fill="#d0d0d0" stroke="#1c1c1c" stroke-width="5.8" clip-path="url(#scd)"/>
<text class="st" transform="translate(1635.3,1253.8) scale(0.97,1)">Median Biomass</text>
<text class="lab" transform="translate(1174.9,1261.8) scale(1.13,1)">d</text>
<text class="r2" transform="translate(1707.2,1417) scale(0.955,1)"><tspan x="0" font-style="italic">R</tspan><tspan x="52.4" dy="-30.6" font-size="44.8px">2</tspan><tspan x="94" dy="30.6">= 0.00085</tspan></text>
<line x1="1195.4" y1="2335.8" x2="1195.4" y2="2351.4" stroke="#262626" stroke-width="5.8"/>
<text class="tk" text-anchor="middle" transform="translate(1194.9,2399.6) scale(0.97,1)">0</text>
<line x1="1451.2" y1="2335.8" x2="1451.2" y2="2351.4" stroke="#262626" stroke-width="5.8"/>
<text class="tk" text-anchor="middle" transform="translate(1450.7,2399.6) scale(0.97,1)">25</text>
<line x1="1706.9" y1="2335.8" x2="1706.9" y2="2351.4" stroke="#262626" stroke-width="5.8"/>
<text class="tk" text-anchor="middle" transform="translate(1706.4,2399.6) scale(0.97,1)">50</text>
<line x1="1962.7" y1="2335.8" x2="1962.7" y2="2351.4" stroke="#262626" stroke-width="5.8"/>
<text class="tk" text-anchor="middle" transform="translate(1962.2,2399.6) scale(0.97,1)">75</text>
</g>
<text class="ti" transform="translate(1134.7,2468.4) scale(0.9605,1)">MHW cumulative intensity (°C-days)</text>
<text class="ti" transform="translate(52.7,1219.2) rotate(-90) scale(0.967,1)">Log ratio</text>
</svg></body></html>
